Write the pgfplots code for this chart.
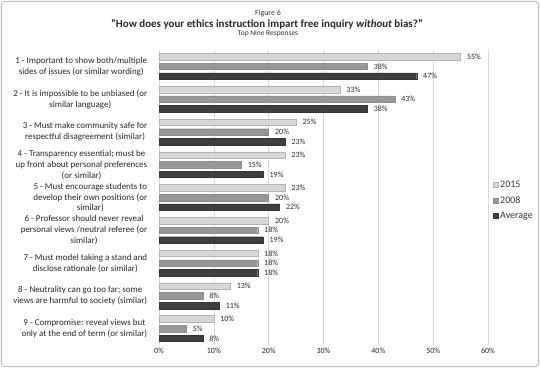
\documentclass[border=0pt]{standalone}
\usepackage{pgfplots}
\pgfplotsset{compat=1.18}
\usepackage{fontspec}
\setmainfont{Carlito}
\definecolor{cA}{HTML}{D6D6D6}
\definecolor{cB}{HTML}{979797}
\definecolor{cC}{HTML}{3F3F3F}
\begin{document}
\begin{tikzpicture}[x=1bp,y=1bp]
\path[use as bounding box] (0,0) rectangle (540,368);
\draw[black!25, line width=1bp, rounded corners=3bp] (1.5,1.5) rectangle (538.5,366.5);
\node[font=\fontsize{8}{9}\selectfont, text=black!80] at (268,355) {Figure 6};
\node[font=\fontsize{11}{12}\selectfont\bfseries, text=black!85] at (267,344) {"How does your ethics instruction impart free inquiry \textit{without} bias?"};
\node[font=\fontsize{7.5}{9}\selectfont, text=black!80] at (268,334) {Top Nine Responses};
\begin{axis}[
  at={(159bp,23bp)}, anchor=south west,
  scale only axis, width=329bp, height=295bp,
  xbar, bar width=6.5bp,
  y dir=reverse,
  xmin=0, xmax=60, ymin=0.5, ymax=9.5,
  xtick={0,10,...,60},
  xticklabel={\pgfmathprintnumber{\tick}\%},
  /pgf/number format/assume math mode=true,
  ytick={1,...,9},
  yticklabels={
    {1 - Important to show both/multiple\\sides of issues (or similar wording)},
    {2 - It is impossible to be unbiased (or\\similar language)},
    {3 - Must make community safe for\\respectful disagreement (similar)},
    {4 - Transparency essential; must be\\up front about personal preferences\\(or similar)},
    {5 - Must encourage students to\\develop their own positions (or\\similar)},
    {6 - Professor should never reveal\\personal views /neutral referee (or\\similar)},
    {7 - Must model taking a stand and\\disclose rationale (or similar)},
    {8 - Neutrality can go too far; some\\views are harmful to society (similar)},
    {9 -  Compromise: reveal views but\\only at the end of term (or similar)}},
  yticklabel style={align=center, font=\fontsize{9}{11}\selectfont, text=black!85, xshift=-4bp},
  xticklabel style={font=\fontsize{8}{9}\selectfont, text=black!85},
  tick style={draw=none},
  axis line style={draw=none},
  xmajorgrids, grid style={black!15, line width=0.6bp},
  nodes near coords={\pgfmathprintnumber{\pgfplotspointmeta}\%},
  nodes near coords style={font=\fontsize{8}{9}\selectfont, text=black!85, xshift=3bp},
  legend style={at={(1.005,0.49)}, anchor=west, draw=none, fill=none,
    font=\fontsize{10}{12}\selectfont, row sep=3.5bp, text=black!80},
  legend cell align=left,
  legend image code/.code={\draw[#1] (0bp,-2.5bp) rectangle (5bp,2.5bp);},
]
\addplot[fill=cA, draw=black!30, bar shift=9.7bp] coordinates {(55,1) (33,2) (25,3) (23,4) (23,5) (20,6) (18,7) (13,8) (10,9)};
\addplot[fill=cB, draw=black!45, bar shift=0bp] coordinates {(38,1) (43,2) (20,3) (15,4) (20,5) (18,6) (18,7) (8,8) (5,9)};
\addplot[fill=cC, draw=black!80, bar shift=-9.7bp] coordinates {(47,1) (38,2) (23,3) (19,4) (22,5) (19,6) (18,7) (11,8) (8,9)};
\legend{2015,2008,Average}
\end{axis}
\end{tikzpicture}
\end{document}
